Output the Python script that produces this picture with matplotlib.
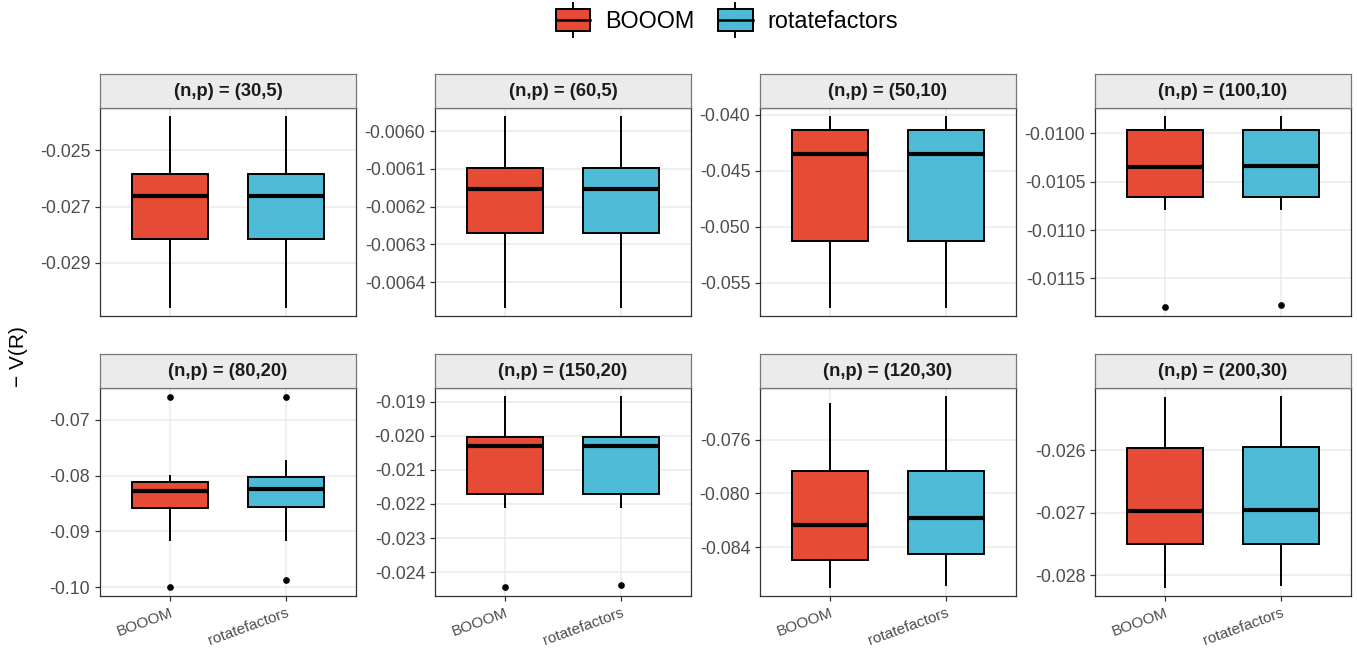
import matplotlib
matplotlib.use("Agg")
import matplotlib.pyplot as plt
from matplotlib.patches import Rectangle
from matplotlib.lines import Line2D
from matplotlib.legend_handler import HandlerBase

plt.rcParams['font.family'] = ['Liberation Sans', 'DejaVu Sans']
plt.rcParams['axes.unicode_minus'] = False

# ---------------- data ----------------
methods = ["BOOOM", "rotatefactors"]
colors = ["#E64B35", "#4DBBD5"]
panel_titles = ["(n,p) = (30,5)", "(n,p) = (60,5)", "(n,p) = (50,10)", "(n,p) = (100,10)",
                "(n,p) = (80,20)", "(n,p) = (150,20)", "(n,p) = (120,30)", "(n,p) = (200,30)"]

# per panel: [BOOOM, rotatefactors]
whislo = [[-0.03055, -0.03055], [-0.006465, -0.006465], [-0.05713, -0.05713], [-0.010784, -0.010784],
          [-0.09149, -0.09150], [-0.02208, -0.02208], [-0.08695, -0.08680], [-0.02818, -0.02816]]
q1 = [[-0.02816, -0.02816], [-0.006269, -0.006269], [-0.05126, -0.05126], [-0.010656, -0.010656],
      [-0.08573, -0.08555], [-0.02170, -0.02170], [-0.08495, -0.08455], [-0.02750, -0.02750]]
med = [[-0.02663, -0.02662], [-0.006154, -0.006154], [-0.04351, -0.04351], [-0.010347, -0.010340],
       [-0.08269, -0.08245], [-0.02030, -0.02030], [-0.08233, -0.08180], [-0.02697, -0.02696]]
q3 = [[-0.02584, -0.02584], [-0.006098, -0.006098], [-0.04135, -0.04135], [-0.009969, -0.009969],
      [-0.08118, -0.08023], [-0.02003, -0.02003], [-0.07835, -0.07832], [-0.02596, -0.02595]]
whishi = [[-0.02384, -0.02384], [-0.005964, -0.005964], [-0.04024, -0.04024], [-0.009834, -0.009834],
          [-0.08010, -0.07737], [-0.01888, -0.01888], [-0.07330, -0.07283], [-0.02517, -0.02516]]
fliers = [[[], []], [[], []], [[], []], [[-0.011791], [-0.011780]],
          [[-0.0660, -0.0999], [-0.0660, -0.09869]], [[-0.02442], [-0.02437]], [[], []], [[], []]]

yticks = [[-0.025, -0.027, -0.029],
          [-0.0060, -0.0061, -0.0062, -0.0063, -0.0064],
          [-0.040, -0.045, -0.050, -0.055],
          [-0.0100, -0.0105, -0.0110, -0.0115],
          [-0.07, -0.08, -0.09, -0.10],
          [-0.019, -0.020, -0.021, -0.022, -0.023, -0.024],
          [-0.076, -0.080, -0.084],
          [-0.026, -0.027, -0.028]]
ytick_labels = [["-0.025", "-0.027", "-0.029"],
                ["-0.0060", "-0.0061", "-0.0062", "-0.0063", "-0.0064"],
                ["-0.040", "-0.045", "-0.050", "-0.055"],
                ["-0.0100", "-0.0105", "-0.0110", "-0.0115"],
                ["-0.07", "-0.08", "-0.09", "-0.10"],
                ["-0.019", "-0.020", "-0.021", "-0.022", "-0.023", "-0.024"],
                ["-0.076", "-0.080", "-0.084"],
                ["-0.026", "-0.027", "-0.028"]]
y_label = "\u2212 V(R)"

# ---------------- layout ----------------
W, H = 1357, 650
fig = plt.figure(figsize=(W / 100, H / 100), dpi=100)
col_left = [100, 435, 760, 1095]
col_w = 256
row_top = [108, 388]
row_h = 208
strip_h = 34

grid_c = "#EBEBEB"
border_c = "#333333"
text_c = "#4D4D4D"

for i in range(8):
    r, c = divmod(i, 4)
    x0 = col_left[c] / W
    y0 = 1 - (row_top[r] + row_h) / H
    ax = fig.add_axes([x0, y0, col_w / W, row_h / H])
    stats = []
    for m in range(2):
        stats.append(dict(med=med[i][m], q1=q1[i][m], q3=q3[i][m],
                          whislo=whislo[i][m], whishi=whishi[i][m], fliers=fliers[i][m]))
    bp = ax.bxp(stats, positions=[1, 2], widths=0.65, patch_artist=True, showcaps=False,
                boxprops=dict(edgecolor="black", linewidth=1.4),
                medianprops=dict(color="black", linewidth=3.0, solid_capstyle="butt"),
                whiskerprops=dict(color="black", linewidth=1.4),
                flierprops=dict(marker="o", markersize=3.8, markerfacecolor="black",
                                markeredgecolor="black", linestyle="none"))
    for patch, col in zip(bp["boxes"], colors):
        patch.set_facecolor(col)
    # limits with ggplot-like 5% expansion
    allv = [whislo[i][m] for m in range(2)] + [whishi[i][m] for m in range(2)]
    for m in range(2):
        allv += list(fliers[i][m])
    lo, hi = min(allv), max(allv)
    pad = (hi - lo) * 0.05
    ax.set_ylim(lo - pad, hi + pad)
    ax.set_xlim(0.4, 2.6)
    ax.set_yticks(yticks[i])
    ax.set_yticklabels(ytick_labels[i])
    ax.set_xticks([1, 2])
    ax.grid(True, color=grid_c, linewidth=1.1, zorder=0)
    ax.set_axisbelow(True)
    for s in ax.spines.values():
        s.set_color(border_c)
        s.set_linewidth(0.9)
    ax.tick_params(axis="y", colors=border_c, labelcolor=text_c, labelsize=12.8, length=3.5, width=0.9)
    if r == 1:
        ax.set_xticklabels(methods, rotation=20, ha="right", rotation_mode="anchor")
        ax.tick_params(axis="x", colors=border_c, labelcolor=text_c, labelsize=11, length=3.5, width=0.9)
    else:
        ax.tick_params(axis="x", length=0, labelbottom=False)
    # strip
    sax = fig.add_axes([x0, 1 - row_top[r] / H, col_w / W, strip_h / H])
    sax.set_facecolor("#EBEBEB")
    sax.set_xticks([])
    sax.set_yticks([])
    for s in sax.spines.values():
        s.set_color("#777777")
        s.set_linewidth(0.9)
    sax.text(0.5, 0.48, panel_titles[i], ha="center", va="center", fontsize=13.2,
             fontweight="bold", color="#1A1A1A", transform=sax.transAxes)

fig.text(18 / W, 1 - 357 / H, y_label, rotation=90, ha="center", va="center", fontsize=15,
         color="black")


class BoxHandler(HandlerBase):
    def create_artists(self, legend, orig_handle, xdescent, ydescent, width, height, fontsize, trans):
        x0, y0 = -xdescent, -ydescent
        cx = x0 + width / 2
        whisk = Line2D([cx, cx], [y0 - 0.1 * height, y0 + 1.1 * height], color="black", lw=1.4,
                       transform=trans)
        rect = Rectangle((x0, y0 + 0.1 * height), width, 0.8 * height,
                         facecolor=orig_handle.get_facecolor(), edgecolor="black", lw=1.4,
                         transform=trans)
        mid = Line2D([x0, x0 + width], [y0 + height / 2, y0 + height / 2], color="black",
                     lw=1.8, transform=trans)
        return [whisk, rect, mid]


handles = [Rectangle((0, 0), 1, 1, facecolor=col) for col in colors]
fig.legend(handles, methods, handler_map={Rectangle: BoxHandler()}, loc="center",
           bbox_to_anchor=(727 / W, 1 - 20 / H), ncol=2, frameon=False, fontsize=16.8,
           handlelength=1.48, handleheight=1.5, handletextpad=0.65, columnspacing=1.0)

fig.savefig("out.png", dpi=100)
